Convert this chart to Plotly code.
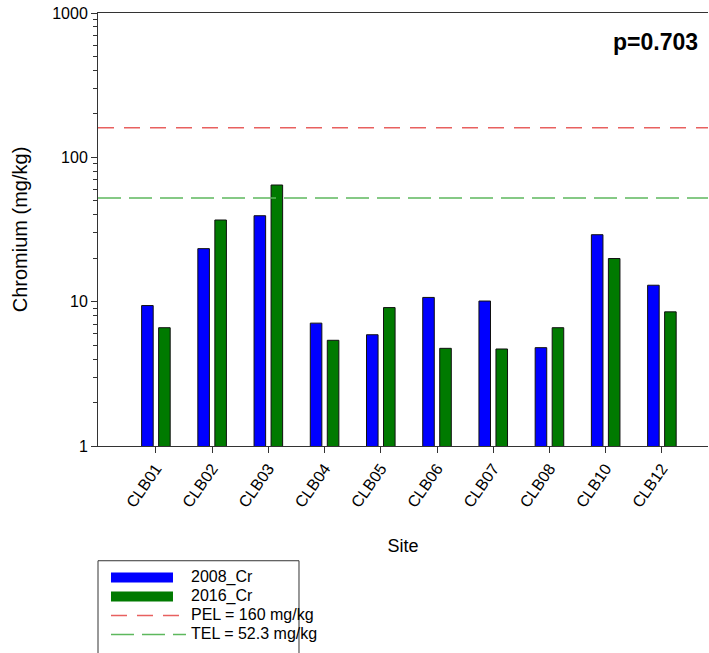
import plotly.graph_objects as go

sites = ["CLB01", "CLB02", "CLB03", "CLB04", "CLB05", "CLB06", "CLB07", "CLB08", "CLB10", "CLB12"]
cr_2008 = [9.4, 23.3, 39.4, 7.1, 5.9, 10.7, 10.1, 4.8, 29.1, 13.0]
cr_2016 = [6.6, 36.8, 64.3, 5.4, 9.1, 4.75, 4.7, 6.6, 19.9, 8.5]
pel_value = 160
tel_value = 52.3
y_tickvals = [1, 10, 100, 1000]
y_ticktext = ["1", "10", "100", "1000"]
p_text = "p=0.703"

BLUE = "#0000FF"
GREEN = "#007A00"
RED_LINE = "#E8605F"
GREEN_LINE = "#5DB85D"
FONT = "Arial, Liberation Sans, sans-serif"


def lg(txt):
    return f'<span style="font-size:16px">{txt}</span>'


fig = go.Figure()
fig.add_trace(go.Bar(x=sites, y=cr_2008, name="2008_Cr", showlegend=False,
                     marker=dict(color=BLUE, line=dict(color="#111111", width=1))))
fig.add_trace(go.Bar(x=sites, y=cr_2016, name="2016_Cr", showlegend=False,
                     marker=dict(color=GREEN, line=dict(color="#111111", width=1))))
# legend proxies for the bar series
fig.add_trace(go.Scatter(x=[None], y=[None], mode="lines", name=lg("2008_Cr"), legendrank=1,
                         line=dict(color=BLUE, width=12, dash="62px,400px"), hoverinfo="skip"))
fig.add_trace(go.Scatter(x=[None], y=[None], mode="lines", name=lg("2016_Cr"), legendrank=2,
                         line=dict(color=GREEN, width=12, dash="62px,400px"), hoverinfo="skip"))

fig.add_hline(y=pel_value, line=dict(color=RED_LINE, width=1.5, dash="16px,10px"),
              showlegend=True, name=lg("PEL = 160 mg/kg"), legendrank=3)
fig.add_hline(y=tel_value, line=dict(color=GREEN_LINE, width=1.5, dash="23px,8px"),
              showlegend=True, name=lg("TEL = 52.3 mg/kg"), legendrank=4)

# legend frame
fig.add_shape(type="rect", xref="paper", yref="paper", x0=0, x1=0.3295, y0=-0.265, y1=-0.56,
              line=dict(color="#333333", width=1), fillcolor="rgba(0,0,0,0)", layer="below")

fig.add_annotation(text=f"<b>{p_text}</b>", xref="paper", yref="paper",
                   x=0.987, y=0.933, xanchor="right", yanchor="middle", showarrow=False,
                   font=dict(size=23, color="black", family=FONT))

fig.update_layout(
    width=709, height=653,
    margin=dict(l=98, r=1, t=13, b=207, autoexpand=False),
    paper_bgcolor="white", plot_bgcolor="white",
    font=dict(family=FONT, color="black", size=16),
    barmode="group", bargap=0.395, bargroupgap=0.32,
    showlegend=True,
    legend=dict(x=0.0131, y=-0.2704, xanchor="left", yanchor="top",
                borderwidth=0, bgcolor="rgba(0,0,0,0)",
                font=dict(size=12, family=FONT), itemwidth=75, tracegroupgap=0),
    xaxis=dict(type="category", range=[-1.03, 9.82], showline=True, linecolor="#333333",
               linewidth=1, mirror=True, ticks="outside", ticklen=6, tickcolor="#333333",
               tickangle=-55, tickfont=dict(size=16), showgrid=False, zeroline=False,
               automargin=False,
               title=dict(text="Site", font=dict(size=18), standoff=29)),
    yaxis=dict(type="log", range=[0, 3], showline=True, linecolor="#333333", linewidth=1,
               tickmode="array", tickvals=y_tickvals, ticktext=y_ticktext,
               ticks="outside", ticklen=6, tickcolor="#333333", showgrid=False,
               ticklabeloverflow="allow", automargin=False,
               zeroline=False, tickfont=dict(size=16),
               minor=dict(ticks="outside", ticklen=4, tickcolor="#333333", dtick="D1", showgrid=False),
               title=dict(text="Chromium (mg/kg)", font=dict(size=20), standoff=19)),
)

fig.write_html("out.html", config={"displayModeBar": False},
               post_script="document.body.style.margin='0px';document.body.style.overflow='hidden';")
